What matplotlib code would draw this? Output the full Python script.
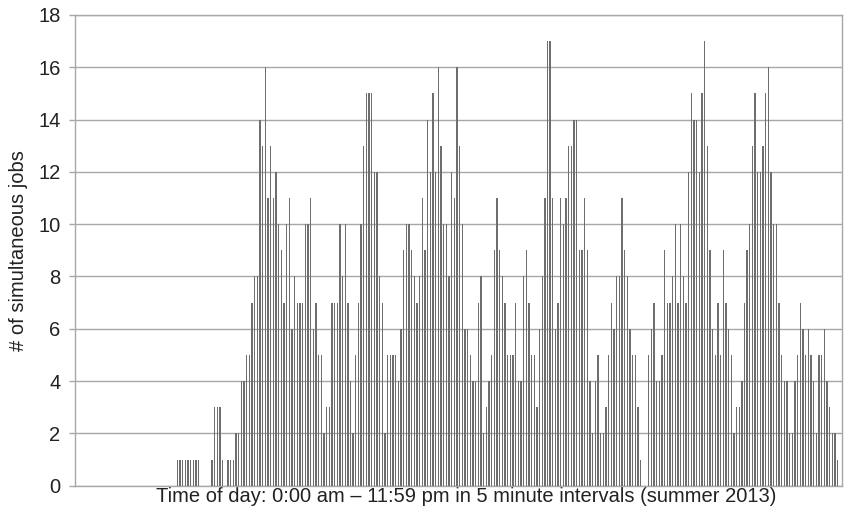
import numpy as np
import matplotlib.pyplot as plt

plt.rcParams['font.family'] = ['Liberation Sans', 'DejaVu Sans']

# one value per 5 minute slot, 12 slots per row = one hour
jobs = [
    0, 0, 0, 0, 0, 0, 0, 0, 0, 0, 0, 0,
    0, 0, 0, 0, 0, 0, 0, 0, 0, 0, 0, 0,
    0, 0, 0, 0, 0, 0, 0, 0, 0, 0, 0, 0,
    0, 0, 1, 1, 1, 1, 1, 1, 1, 1, 1, 0,
    0, 0, 0, 1, 3, 3, 3, 1, 0, 1, 1, 1,
    2, 2, 4, 4, 5, 5, 7, 8, 8, 14, 13, 16,
    11, 13, 11, 12, 10, 9, 7, 10, 11, 6, 8, 7,
    7, 7, 10, 10, 11, 6, 7, 5, 5, 2, 3, 3,
    7, 7, 7, 10, 8, 10, 7, 4, 2, 5, 7, 10,
    13, 15, 15, 15, 12, 12, 8, 7, 2, 5, 5, 5,
    5, 4, 6, 9, 10, 10, 9, 8, 7, 8, 11, 9,
    14, 12, 15, 12, 16, 13, 10, 10, 8, 12, 11, 16,
    13, 10, 6, 6, 5, 4, 4, 7, 8, 2, 3, 4,
    5, 9, 11, 9, 8, 7, 5, 5, 5, 7, 4, 4,
    8, 9, 7, 5, 5, 3, 6, 8, 11, 17, 17, 11,
    6, 7, 11, 10, 11, 13, 13, 14, 14, 9, 9, 11,
    9, 4, 2, 4, 5, 2, 2, 3, 5, 7, 6, 8,
    8, 11, 9, 8, 6, 5, 5, 3, 1, 0, 0, 5,
    6, 7, 4, 4, 5, 9, 7, 7, 8, 10, 7, 10,
    8, 7, 12, 15, 14, 14, 12, 15, 17, 13, 9, 6,
    5, 7, 5, 9, 7, 6, 5, 2, 3, 3, 4, 7,
    9, 10, 13, 15, 12, 12, 13, 15, 16, 12, 10, 10,
    7, 5, 4, 4, 2, 2, 4, 5, 7, 6, 5, 6,
    5, 4, 2, 5, 5, 6, 4, 3, 2, 2, 1, 0,
]
y_ticks = [0, 2, 4, 6, 8, 10, 12, 14, 16, 18]

x_label = 'Time of day: 0:00 am \u2013 11:59 pm in 5 minute intervals (summer 2013)'
y_label = '# of simultaneous jobs'


def main():
    slots = np.arange(len(jobs))

    fig = plt.figure(figsize=(8.5, 5.2), dpi=100)
    ax = fig.add_axes([0.0882, 0.066, 0.902, 0.9052])

    ax.bar(slots, jobs, width=0.5, color='#6e6e6e', linewidth=0, zorder=3)

    ax.set_xlim(-0.5, len(jobs) - 0.5)
    ax.set_ylim(0, 18)
    ax.set_yticks(y_ticks)
    ax.set_xticks([])

    # horizontal grid, ticks drawn as grid stubs outside the axis
    ax.yaxis.grid(True, color='#a8a8a8', linewidth=1.0, zorder=0)
    ax.tick_params(axis='y', length=4.5, width=1.0, color='#a8a8a8',
                   labelsize=14.5, pad=6, labelcolor='#222222')
    for side in ['left', 'bottom', 'top', 'right']:
        ax.spines[side].set_color('#a8a8a8')
        ax.spines[side].set_linewidth(1.0)

    ax.set_xlabel(x_label, fontsize=14.5, labelpad=1, color='#222222')
    ax.set_ylabel(y_label, fontsize=14.5, labelpad=7, color='#222222')
    ax.xaxis.set_label_coords(0.51, -0.003, transform=ax.transAxes)
    ax.xaxis.label.set_va('top')

    fig.savefig('out.png', dpi=100)


if __name__ == '__main__':
    main()
